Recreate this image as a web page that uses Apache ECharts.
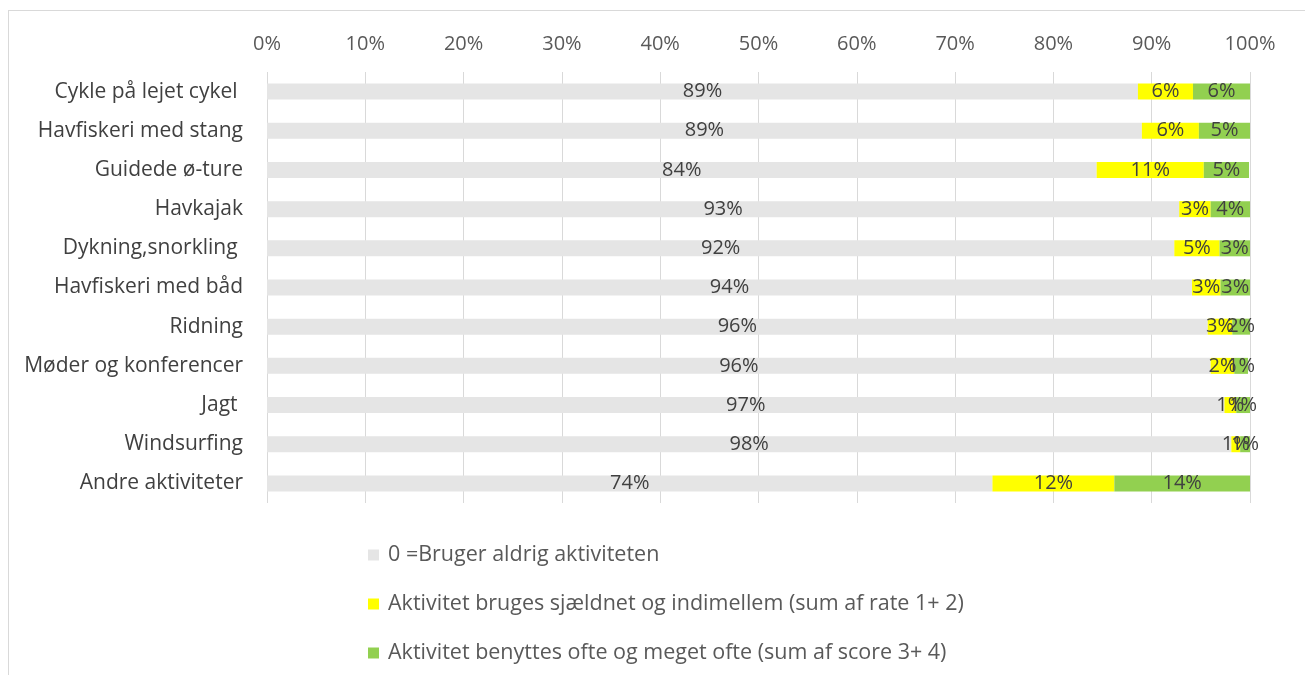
<!DOCTYPE html>
<html>
<head>
<meta charset="utf-8">
<script src="https://cdn.jsdelivr.net/npm/echarts@6/dist/echarts.min.js"></script>
<style>
  html, body { margin: 0; padding: 0; background: #fff; }
  #frame { position: absolute; left: 8px; top: 10px; width: 1310px; height: 680px; border: 1px solid #d9d9d9; box-sizing: border-box; }
  #chart { position: absolute; left: 0; top: 0; width: 1305px; height: 675px; }
</style>
</head>
<body>
<div id="frame"></div>
<div id="chart"></div>
<script>
// kategorier (oppefra og ned)
var categories = [
  'Cykle på lejet cykel ',
  'Havfiskeri med stang',
  'Guidede ø-ture',
  'Havkajak',
  'Dykning,snorkling ',
  'Havfiskeri med båd',
  'Ridning',
  'Møder og konferencer',
  'Jagt ',
  'Windsurfing',
  'Andre aktiviteter'
]
var seriesNames = [
  '0 =Bruger aldrig aktiviteten',
  'Aktivitet bruges sjældnet og indimellem (sum af rate 1+ 2)',
  'Aktivitet benyttes ofte og meget ofte (sum af score 3+ 4)'
]
var neverValues = [88.6, 89.0, 84.4, 92.8, 92.3, 94.1, 95.7, 96.0, 97.4, 98.1, 73.8]
var rarelyValues = [5.6, 5.8, 10.9, 3.2, 4.6, 2.9, 2.5, 2.4, 1.2, 0.9, 12.4]
var oftenValues = [5.8, 5.2, 4.6, 4.0, 3.1, 3.0, 2.1, 1.4, 1.4, 1.0, 13.8]
var tickLabels = ['0%', '10%', '20%', '30%', '40%', '50%', '60%', '70%', '80%', '90%', '100%']
var colors = ['#e5e5e5', '#ffff00', '#92d050']

var fontFamily = '"Open Sans", "Liberation Sans", sans-serif'

function makeSeries(name, data, color) {
  return {
    name: name,
    type: 'bar',
    stack: 'total',
    barWidth: 16,
    color: color,
    label: {
      show: true,
      position: 'inside',
      color: '#404040',
      fontSize: 20,
      fontFamily: fontFamily,
      formatter: function (p) { return Math.round(p.value) + '%' }
    },
    data: data
  }
}

var chart = echarts.init(document.getElementById('chart'))
chart.setOption({
  animation: false,
  textStyle: { fontFamily: fontFamily },
  grid: {
    left: 267,
    right: 55,
    top: 72,
    height: 431
  },
  legend: {
    orient: 'vertical',
    left: 363,
    top: 539,
    itemWidth: 11,
    itemHeight: 11,
    itemGap: 27,
    icon: 'rect',
    textStyle: { color: '#595959', fontSize: 21.5, fontFamily: fontFamily, padding: [0, 0, 0, 4] },
    data: seriesNames
  },
  xAxis: {
    type: 'value',
    position: 'top',
    min: 0,
    max: 100,
    interval: 10,
    axisLabel: {
      margin: 18,
      color: '#595959',
      fontSize: 20,
      formatter: function (v) { return tickLabels[v / 10] }
    },
    axisLine: { show: false },
    axisTick: { show: false },
    splitLine: { show: true, lineStyle: { color: '#d9d9d9', width: 1 } }
  },
  yAxis: {
    type: 'category',
    inverse: true,
    data: categories,
    axisLabel: {
      margin: 24,
      color: '#404040',
      fontSize: 21
    },
    axisLine: { show: false },
    axisTick: { show: false },
    splitLine: { show: false }
  },
  series: [
    makeSeries(seriesNames[0], neverValues, colors[0]),
    makeSeries(seriesNames[1], rarelyValues, colors[1]),
    makeSeries(seriesNames[2], oftenValues, colors[2])
  ]
})
</script>
</body>
</html>
